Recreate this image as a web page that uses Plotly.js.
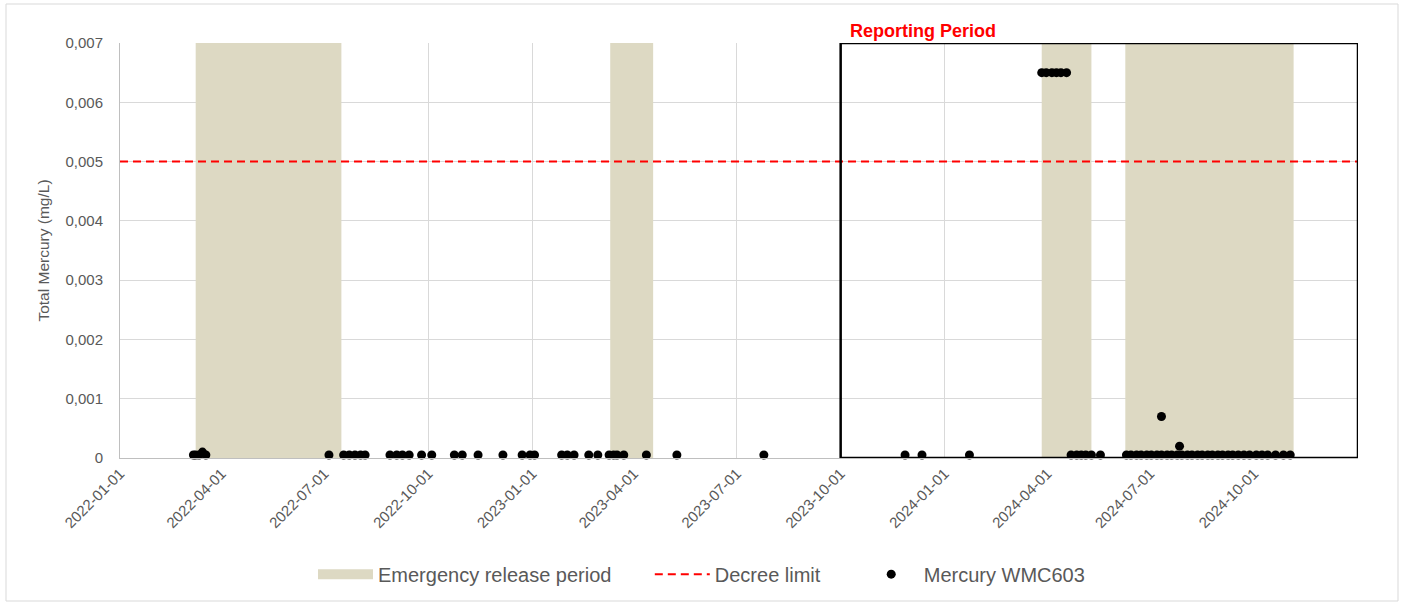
<!DOCTYPE html>
<html>
<head>
<meta charset="utf-8">
<script src="https://cdn.plot.ly/plotly-3.0.1.min.js"></script>
<style>html,body{margin:0;padding:0;background:#fff;}#chart{width:1403px;height:605px;}</style>
</head>
<body>
<div id="chart"></div>
<script>
// ---- data ----
const emergencyStart = ['2022-03-09', '2023-03-11', '2024-03-27', '2024-06-09'];
const emergencyEnd   = ['2022-07-16', '2023-04-18', '2024-05-10', '2024-11-05'];
const reportingStart = '2023-10-01';
const reportingEnd   = '2025-01-01';
const decreeLimit = 0.005;

const mercuryDates = [
  '2022-03-07','2022-03-09','2022-03-12','2022-03-15','2022-03-18',
  '2022-07-05','2022-07-18','2022-07-23','2022-07-28','2022-08-02','2022-08-06',
  '2022-08-28','2022-09-03','2022-09-08','2022-09-14','2022-09-25','2022-10-04',
  '2022-10-24','2022-10-31','2022-11-14','2022-12-06','2022-12-23','2022-12-30',
  '2023-01-03','2023-01-27','2023-02-01','2023-02-07','2023-02-20','2023-02-28',
  '2023-03-10','2023-03-14','2023-03-17','2023-03-23','2023-04-12','2023-05-09',
  '2023-07-25','2023-11-27','2023-12-12','2024-01-23',
  '2024-03-27','2024-03-31','2024-04-05','2024-04-09','2024-04-13','2024-04-18',
  '2024-04-22','2024-04-27','2024-05-01','2024-05-05','2024-05-10','2024-05-18',
  '2024-06-10','2024-06-14','2024-06-19','2024-06-23','2024-06-28','2024-07-02',
  '2024-07-07','2024-07-11','2024-07-11','2024-07-16','2024-07-20','2024-07-25',
  '2024-07-27','2024-07-29','2024-08-03','2024-08-07','2024-08-12','2024-08-16',
  '2024-08-21','2024-08-25','2024-08-30','2024-09-03','2024-09-08','2024-09-12',
  '2024-09-17','2024-09-22','2024-09-27','2024-10-03','2024-10-08','2024-10-13',
  '2024-10-20','2024-10-27','2024-11-02'
];
const mercuryValues = [
  0.00005,0.00005,0.00005,0.0001,0.00005,
  0.00005,0.00005,0.00005,0.00005,0.00005,0.00005,
  0.00005,0.00005,0.00005,0.00005,0.00005,0.00005,
  0.00005,0.00005,0.00005,0.00005,0.00005,0.00005,
  0.00005,0.00005,0.00005,0.00005,0.00005,0.00005,
  0.00005,0.00005,0.00005,0.00005,0.00005,0.00005,
  0.00005,0.00005,0.00005,0.00005,
  0.0065,0.0065,0.0065,0.0065,0.0065,0.0065,
  0.00005,0.00005,0.00005,0.00005,0.00005,0.00005,
  0.00005,0.00005,0.00005,0.00005,0.00005,0.00005,
  0.00005,0.0007,0.00005,0.00005,0.00005,0.00005,
  0.0002,0.00005,0.00005,0.00005,0.00005,0.00005,
  0.00005,0.00005,0.00005,0.00005,0.00005,0.00005,
  0.00005,0.00005,0.00005,0.00005,0.00005,0.00005,
  0.00005,0.00005,0.00005
];

const xTickVals = ['2022-01-01','2022-04-01','2022-07-01','2022-10-01','2023-01-01','2023-04-01',
                   '2023-07-01','2023-10-01','2024-01-01','2024-04-01','2024-07-01','2024-10-01'];
const yTickVals = [0, 0.001, 0.002, 0.003, 0.004, 0.005, 0.006, 0.007];
const yTickText = ['0','0,001','0,002','0,003','0,004','0,005','0,006','0,007'];
const xRange = ['2022-01-01', '2025-01-01'];
const yRange = [0, 0.007];

// ---- chart ----
const FONT = 'Liberation Sans, Arial, sans-serif';
const GREY = '#595959';
const SHADE = '#DDD9C3';
const PAD = '\u00a0'.repeat(6);

const shapes = emergencyStart.map((s, i) => ({
  type: 'rect', xref: 'x', yref: 'y', x0: s, x1: emergencyEnd[i], y0: yRange[0], y1: yRange[1],
  fillcolor: SHADE, line: {width: 0}, layer: 'between'
}));
shapes.push({
  type: 'rect', xref: 'x', yref: 'y', x0: reportingStart, x1: reportingEnd, y0: yRange[0], y1: yRange[1],
  fillcolor: 'rgba(0,0,0,0)', line: {color: '#000000', width: 2.5}, layer: 'above'
});
// outer chart border
shapes.push({
  type: 'rect', xref: 'paper', yref: 'paper',
  x0: (6 - 120) / 1238, x1: (1398 - 120) / 1238, y0: (458 - 601) / 415, y1: (458 - 4) / 415,
  fillcolor: 'rgba(0,0,0,0)', line: {color: '#D9D9D9', width: 1}, layer: 'below'
});

const traces = [
  {
    // legend entry for the shaded emergency periods (drawn as shapes above)
    type: 'scatter', mode: 'lines', name: 'Emergency release period' + PAD,
    x: [null], y: [null],
    line: {color: SHADE, width: 14}, hoverinfo: 'skip'
  },
  {
    type: 'scatter', mode: 'lines', name: 'Decree limit' + PAD,
    x: xRange, y: [decreeLimit, decreeLimit],
    line: {color: '#FF0000', width: 2, dash: '8px,5px'},
    hoverinfo: 'skip'
  },
  {
    type: 'scatter', mode: 'markers', name: 'Mercury WMC603',
    x: mercuryDates, y: mercuryValues,
    marker: {color: '#000000', size: 9},
    cliponaxis: false
  }
];

const layout = {
  width: 1403, height: 605,
  margin: {l: 120, r: 45, t: 43, b: 147},
  paper_bgcolor: '#ffffff', plot_bgcolor: '#ffffff',
  font: {family: FONT, color: GREY, size: 14},
  separators: ', ',
  xaxis: {
    type: 'date', range: xRange, tickvals: xTickVals, ticktext: xTickVals,
    tickangle: -45, tickfont: {size: 15, color: GREY, family: FONT},
    showgrid: true, gridcolor: '#D9D9D9', gridwidth: 1,
    showline: true, linecolor: '#BFBFBF', linewidth: 1,
    zeroline: false, ticks: '', fixedrange: true
  },
  yaxis: {
    range: yRange, tickvals: yTickVals, ticktext: yTickText,
    tickfont: {size: 15, color: GREY, family: FONT},
    showgrid: true, gridcolor: '#D9D9D9', gridwidth: 1,
    showline: true, linecolor: '#BFBFBF', linewidth: 1,
    zeroline: false, ticks: '', ticklabelstandoff: 13,
    title: {text: 'Total Mercury (mg/L)', font: {size: 15.5, color: GREY, family: FONT}, standoff: 12},
    fixedrange: true
  },
  shapes: shapes,
  annotations: [{
    text: '<b>Reporting Period</b>', xref: 'x', yref: 'paper',
    x: reportingStart, y: 1, xanchor: 'left', yanchor: 'bottom', xshift: 7, yshift: 0,
    showarrow: false, font: {size: 18, color: '#FF0000', family: FONT}
  }],
  legend: {
    orientation: 'h', xref: 'container', yref: 'container',
    x: 0.5, xanchor: 'center', y: 0.051, yanchor: 'middle',
    font: {size: 20, color: GREY, family: FONT},
    itemwidth: 55, traceorder: 'normal', bgcolor: 'rgba(0,0,0,0)'
  },
  showlegend: true
};

Plotly.newPlot('chart', traces, layout, {displayModeBar: false, staticPlot: true});
</script>
</body>
</html>
